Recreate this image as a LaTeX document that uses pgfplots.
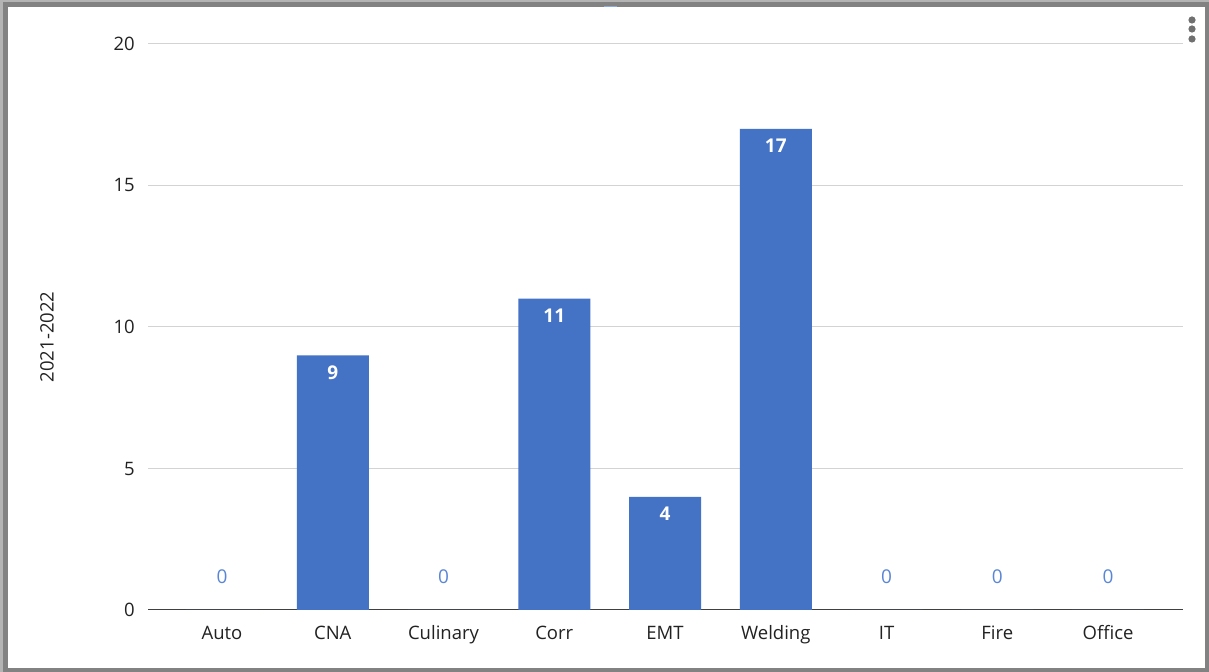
\documentclass[border=0pt]{standalone}
\usepackage{pgfplots}
\pgfplotsset{compat=1.18}
\usepackage{fontspec}
\setmainfont{Open Sans}
\definecolor{barblue}{HTML}{4472C4}
\definecolor{lblblue}{HTML}{5A86D6}
\definecolor{txt}{HTML}{222222}
\definecolor{gridc}{HTML}{D3D3D3}
\definecolor{frameD}{HTML}{828282}
\definecolor{frameL}{HTML}{B4B4B4}
\definecolor{dots}{HTML}{707070}
\begin{document}
\begin{tikzpicture}[x=1bp,y=1bp]
\fill[frameL] (0,0) rectangle (1209,672);
\fill[frameD] (3,0) rectangle (1209,670);
\fill[white] (8,4) rectangle (1205,665);
\draw[lblblue!70, line width=1.5bp] (604,665.5) -- (617,665.5);
\fill[dots] (1192,652) circle (3.6bp);
\fill[dots] (1192,643) circle (3.6bp);
\fill[dots] (1192,633) circle (3.6bp);
\begin{axis}[
  at={(148bp,62bp)}, anchor=south west,
  scale only axis, width=1035bp, height=566bp,
  xmin=-0.668, xmax=8.677, ymin=0, ymax=20,
  ybar, bar width=72bp, bar shift=0pt,
  /pgf/number format/assume math mode=true,
  xtick={0,...,8},
  xticklabels={Auto,CNA,Culinary,Corr,EMT,Welding,IT,Fire,Office},
  ytick={0,5,10,15,20},
  axis x line*=bottom, axis y line*=left,
  y axis line style={draw=none},
  x axis line style={draw=black!75, line width=1bp},
  tick style={draw=none},
  ymajorgrids, grid style={gridc, line width=1bp},
  tick label style={font=\fontsize{18.5bp}{22bp}\selectfont, text=txt},
  yticklabel style={anchor=east, inner sep=0pt, xshift=-13bp},
  xticklabel style={anchor=base, inner sep=0pt, yshift=-25bp},
  ylabel={2021-2022},
  every axis y label/.style={at={(rel axis cs:0,0.5)}, rotate=90, anchor=center, yshift=101bp, xshift=-10bp, font=\fontsize{18.5bp}{22bp}\selectfont, text=txt},
]
\addplot[fill=barblue, draw=none, nodes near coords,
  every node near coord/.append style={anchor=north, yshift=-7bp, text=white, font=\fontsize{19bp}{22bp}\selectfont\bfseries}]
  coordinates {(1,9) (3,11) (4,4) (5,17)};
\addplot[fill=barblue, draw=none, nodes near coords,
  every node near coord/.append style={anchor=center, yshift=33bp, text=lblblue, font=\fontsize{19bp}{22bp}\selectfont}]
  coordinates {(0,0) (2,0) (6,0) (7,0) (8,0)};
\end{axis}
\end{tikzpicture}
\end{document}
